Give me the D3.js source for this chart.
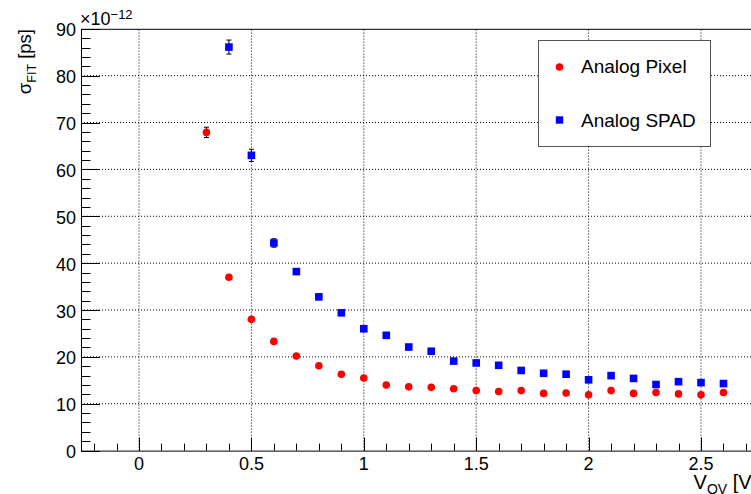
<!DOCTYPE html>
<html>
<head>
<meta charset="utf-8">
<script src="https://cdn.jsdelivr.net/npm/d3@7"></script>
<style>
  body { margin: 0; background: #fff; }
  svg { display: block; font-family: "Liberation Sans", Arial, sans-serif; }
</style>
</head>
<body>
<script>
/* global d3 */

// Over-voltage steps [V]
var vovPixel = [0.3, 0.4, 0.5, 0.6, 0.7, 0.8, 0.9, 1.0, 1.1, 1.2, 1.3, 1.4, 1.5, 1.6, 1.7, 1.8, 1.9, 2.0, 2.1, 2.2, 2.3, 2.4, 2.5, 2.6];
var vovSpad  = [0.4, 0.5, 0.6, 0.7, 0.8, 0.9, 1.0, 1.1, 1.2, 1.3, 1.4, 1.5, 1.6, 1.7, 1.8, 1.9, 2.0, 2.1, 2.2, 2.3, 2.4, 2.5, 2.6];

// sigma_FIT in units of 1e-12 s
var sigmaPixel = [67.9, 37.0, 28.0, 23.3, 20.2, 18.1, 16.3, 15.5, 14.0, 13.6, 13.5, 13.2, 12.8, 12.6, 12.8, 12.2, 12.3, 11.9, 12.8, 12.2, 12.4, 12.1, 11.9, 12.4];
var errPixel   = [1.1, 0.4, 0.5, 0.4, 0.3, 0.3, 0.3, 0.3, 0.3, 0.3, 0.3, 0.3, 0.3, 0.3, 0.3, 0.3, 0.3, 0.3, 0.3, 0.3, 0.3, 0.3, 0.3, 0.3];
var sigmaSpad  = [86.1, 63.0, 44.3, 38.2, 32.8, 29.4, 26.0, 24.6, 22.1, 21.2, 19.1, 18.7, 18.2, 17.1, 16.5, 16.3, 15.1, 16.0, 15.4, 14.1, 14.7, 14.5, 14.3];
var errSpad    = [1.5, 1.3, 0.9, 0.5, 0.4, 0.4, 0.4, 0.4, 0.3, 0.3, 0.3, 0.3, 0.3, 0.3, 0.3, 0.3, 0.3, 0.3, 0.3, 0.3, 0.3, 0.3, 0.3];

var xTicks = [0, 0.5, 1, 1.5, 2, 2.5];
var yTicks = [0, 10, 20, 30, 40, 50, 60, 70, 80, 90];
var legendLabels = ['Analog Pixel', 'Analog SPAD'];

var W = 751, H = 494;

var svg = d3.select('body').append('svg')
            .attr('width', W)
            .attr('height', H);

var x = d3.scaleLinear().domain([-0.258, 2.75]).range([81, 757.2]);
var y = d3.scaleLinear().domain([0, 90]).range([450.6, 28.8]);

var x0 = x.range()[0], x1 = x.range()[1],
    y0 = y.range()[0], y1 = y.range()[1];

// Grid (dotted, major ticks only)
var grid = svg.append('g');
grid.selectAll('line.gx')
  .data(xTicks)
  .enter()
  .append('line')
    .attr('x1', function(d){ return x(d); })
    .attr('x2', function(d){ return x(d); })
    .attr('y1', y0)
    .attr('y2', y1)
    .style('stroke', '#000')
    .style('stroke-width', 1)
    .style('stroke-dasharray', '1,2');
grid.selectAll('line.gy')
  .data(yTicks.slice(1, -1))
  .enter()
  .append('line')
    .attr('x1', x0)
    .attr('x2', x1)
    .attr('y1', function(d){ return y(d); })
    .attr('y2', function(d){ return y(d); })
    .style('stroke', '#000')
    .style('stroke-width', 1)
    .style('stroke-dasharray', '1,2');

// Frame
svg.append('rect')
  .attr('x', x0 + 0.5)
  .attr('y', y1 + 0.5)
  .attr('width', x1 - x0)
  .attr('height', y0 - y1)
  .style('fill', 'none')
  .style('stroke', '#000')
  .style('stroke-width', 1);

// Y axis ticks: major every 10, minor every 2
var yMinor = d3.range(0, 90.01, 2);
svg.append('g').selectAll('line')
  .data(yMinor)
  .enter()
  .append('line')
    .attr('x1', x0)
    .attr('x2', function(d){ return x0 + (d % 10 === 0 ? 19 : 9.5); })
    .attr('y1', function(d){ return Math.round(y(d)) + 0.5; })
    .attr('y2', function(d){ return Math.round(y(d)) + 0.5; })
    .style('stroke', '#000')
    .style('stroke-width', 1);

svg.append('g').selectAll('text')
  .data(yTicks)
  .enter()
  .append('text')
    .attr('x', 76)
    .attr('y', function(d){ return y(d) + 7.5; })
    .style('text-anchor', 'end')
    .style('font-size', '18px')
    .style('fill', '#000')
    .text(function(d){ return d; });

// X axis ticks: major every 0.5, minor every 0.1
var xMinor = d3.range(-2, 28).map(function(i){ return i / 10; });
svg.append('g').selectAll('line')
  .data(xMinor)
  .enter()
  .append('line')
    .attr('x1', function(d){ return Math.round(x(d)) + 0.5; })
    .attr('x2', function(d){ return Math.round(x(d)) + 0.5; })
    .attr('y1', y0)
    .attr('y2', function(d){ return y0 - (Math.abs(d * 2 - Math.round(d * 2)) < 1e-6 ? 13 : 7); })
    .style('stroke', '#000')
    .style('stroke-width', 1);

svg.append('g').selectAll('text')
  .data(xTicks)
  .enter()
  .append('text')
    .attr('x', function(d){ return x(d); })
    .attr('y', 469.5)
    .style('text-anchor', 'middle')
    .style('font-size', '18px')
    .style('fill', '#000')
    .text(function(d){ return d; });

// Exponent label
var expo = svg.append('text')
  .attr('x', 80)
  .attr('y', 25)
  .style('font-size', '18px')
  .style('fill', '#000');
expo.append('tspan').text('\u00d710');
expo.append('tspan').attr('dy', -6).style('font-size', '13px').text('\u221212');

// Axis titles
var yTitle = svg.append('text')
  .attr('transform', 'translate(31,29) rotate(-90)')
  .style('text-anchor', 'end')
  .style('font-size', '18.5px')
  .style('fill', '#000');
yTitle.append('tspan').text('\u03c3');
yTitle.append('tspan').attr('dy', 5).style('font-size', '12.5px').text('FIT');
yTitle.append('tspan').attr('dy', -5).text(' [ps]');

var xTitle = svg.append('text')
  .attr('x', x1)
  .attr('y', 488.5)
  .style('text-anchor', 'end')
  .style('font-size', '20px')
  .style('fill', '#000');
xTitle.append('tspan').text('V');
xTitle.append('tspan').attr('dy', 5).style('font-size', '14px').text('OV');
xTitle.append('tspan').attr('dy', -5).text(' [V]');

// Data: error bars + markers
function drawSeries(xs, ys, es, color, shape) {
  var g = svg.append('g');
  var pts = xs.map(function(v, i){ return {x: v, y: ys[i], e: es[i]}; });

  g.selectAll('line.err')
    .data(pts)
    .enter()
    .append('line')
      .attr('x1', function(d){ return x(d.x); })
      .attr('x2', function(d){ return x(d.x); })
      .attr('y1', function(d){ return y(d.y - d.e); })
      .attr('y2', function(d){ return y(d.y + d.e); })
      .style('stroke', '#000')
      .style('stroke-width', 1);

  g.selectAll('path.cap')
    .data(pts.filter(function(d){ return d.e > 0.8; }))
    .enter()
    .append('path')
      .attr('d', function(d){
        var cx = x(d.x);
        return 'M' + (cx - 2.5) + ',' + y(d.y + d.e) + 'H' + (cx + 2.5) +
               'M' + (cx - 2.5) + ',' + y(d.y - d.e) + 'H' + (cx + 2.5);
      })
      .style('stroke', '#000')
      .style('stroke-width', 1);

  if (shape === 'circle') {
    g.selectAll('circle')
      .data(pts)
      .enter()
      .append('circle')
        .attr('cx', function(d){ return x(d.x); })
        .attr('cy', function(d){ return y(d.y); })
        .attr('r', 3.8)
        .style('fill', color);
  } else {
    g.selectAll('rect')
      .data(pts)
      .enter()
      .append('rect')
        .attr('x', function(d){ return x(d.x) - 3.8; })
        .attr('y', function(d){ return y(d.y) - 3.8; })
        .attr('width', 7.6)
        .attr('height', 7.6)
        .style('fill', color);
  }
}

drawSeries(vovPixel, sigmaPixel, errPixel, '#ff0000', 'circle');
drawSeries(vovSpad, sigmaSpad, errSpad, '#0000ff', 'square');

// Legend
var legend = svg.append('g');
legend.append('rect')
  .attr('x', 538.5)
  .attr('y', 40.5)
  .attr('width', 172)
  .attr('height', 106)
  .style('fill', '#fff')
  .style('stroke', '#555')
  .style('stroke-width', 1);

legend.append('circle')
  .attr('cx', 559.5)
  .attr('cy', 67)
  .attr('r', 3.8)
  .style('fill', '#ff0000');
legend.append('rect')
  .attr('x', 555.8)
  .attr('y', 116.3)
  .attr('width', 7.4)
  .attr('height', 7.4)
  .style('fill', '#0000ff');

legend.selectAll('text')
  .data(legendLabels)
  .enter()
  .append('text')
    .attr('x', 581)
    .attr('y', function(d, i){ return 73 + i * 53.5; })
    .style('font-size', '19px')
    .style('fill', '#000')
    .text(function(d){ return d; });
</script>
</body>
</html>
